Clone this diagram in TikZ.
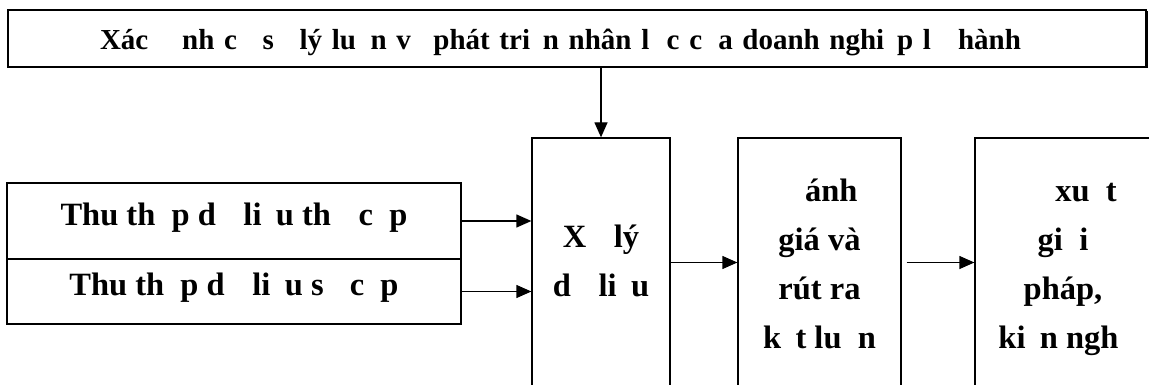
\documentclass[tikz,border=0pt]{standalone}
\usepackage{fontspec}
\setmainfont{Liberation Serif}
\usetikzlibrary{arrows.meta,shadows}
\newcommand{\miss}[1]{\phantom{#1}}
\newcommand{\up}[1]{\rule{0pt}{#1pt}}
\newcommand{\dn}{\rule[-10pt]{0pt}{10pt}}

\begin{document}
\begin{tikzpicture}[x=1pt, y=-1pt, line width=1.3pt,
    every node/.style={font=\bfseries\fontsize{32.5}{49}\selectfont},
    b/.style={draw, rectangle, inner sep=0pt, fill=white},
    src/.style={b, minimum width=454pt, text height=22pt, text depth=14pt},
    col/.style={b, minimum height=249pt, align=center},
    arr/.style={-{Triangle[length=15pt,width=13pt]}}]
  \useasboundingbox (0,0) rectangle (1149,385);
  \node[b, inner xsep=92pt, text width=954pt, align=left, minimum height=57pt, text depth=0pt,
        font=\bfseries\fontsize{29}{33}\selectfont,
        drop shadow={shadow xshift=1.5pt, shadow yshift=-1.5pt, fill=black, opacity=1}] (top) at (577,38.5)
        {Xác \miss{đị}nh c\miss{ơ} s\miss{ở} lý lu\miss{ậ}n v\miss{ề} phát tri\miss{ể}n nhân l\miss{ự}c c\miss{ủ}a doanh nghi\miss{ệ}p l\miss{ữ} hành};
  \node[src, minimum height=76pt] (src1) at (234,221) {Thu th\miss{ậ}p d\miss{ữ} li\miss{ệ}u th\miss{ứ} c\miss{ấ}p};
  \node[src, minimum height=65pt] (src2) at (234,291.5) {Thu th\miss{ậ}p d\miss{ữ} li\miss{ệ}u s\miss{ơ} c\miss{ấ}p};
  \node[col, minimum width=138pt] (proc) at (601,262.5) {\up{28}X\miss{ử} lý\\d\miss{ữ} li\miss{ệ}u\dn};
  \node[col, minimum width=163pt] (eval) at (819.5,262.5) {\up{34}\miss{Đ}ánh\\giá và\\rút ra\\k\miss{ế}t lu\miss{ậ}n\dn};
  \node[col, minimum width=176pt] (sol) at (1063,262.5) {\up{34}\miss{Đề} xu\miss{ấ}t\\gi\miss{ả}i\\pháp,\\ki\miss{ế}n ngh\miss{ị}\dn};
  \draw[arr] (proc.north |- top.south) -- (proc.north);
  \foreach \s in {src1, src2} \draw[arr] (\s.east) -- (\s.east -| proc.west);
  \draw[arr] (proc) -- (eval);
  \draw[arr, shorten <=5pt] (eval) -- (sol);
\end{tikzpicture}
\end{document}
